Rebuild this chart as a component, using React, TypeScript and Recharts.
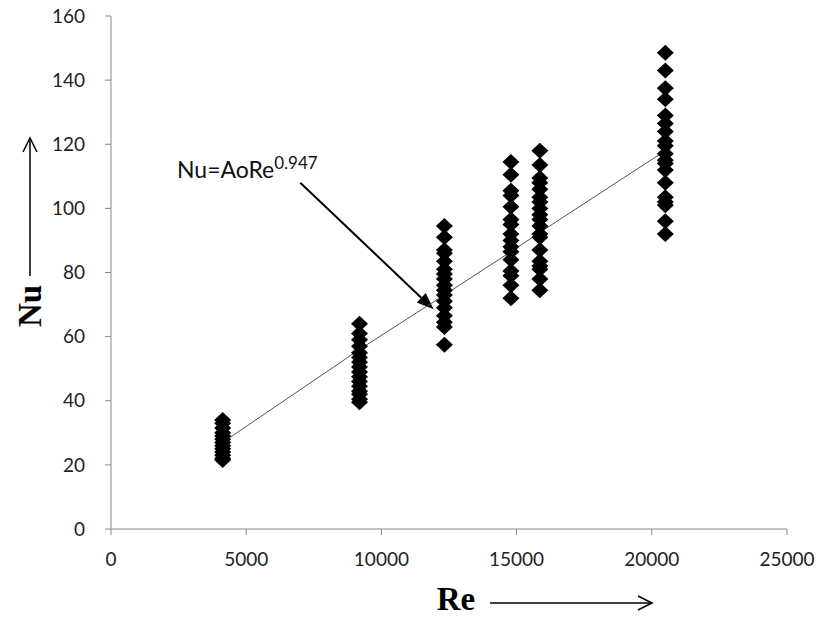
import React from 'react';
import { ScatterChart, Scatter, XAxis, YAxis, ReferenceDot, ReferenceLine } from 'recharts';

// Re value of each test group, and the Nu readings at that Re
const reGroups = [4130, 9190, 12330, 14790, 15860, 20500];
const nuGroup1 = [34, 33, 31.5, 30, 29, 28, 27, 26, 25, 24, 23, 22, 21.5];
const nuGroup2 = [64, 61, 59, 57, 55, 53.5, 52, 50.5, 49, 47.5, 46, 44.5, 43, 42, 40.5, 39.5];
const nuGroup3 = [94.5, 91, 87, 86, 83.5, 81, 79.5, 78, 76, 74.5, 73, 71, 69, 66.5, 64.5, 63, 57.5];
const nuGroup4 = [114.5, 110.5, 105.5, 104, 100.5, 96.5, 95, 92, 90, 88, 86.5, 84, 80.5, 79, 76, 72];
const nuGroup5 = [118, 113.5, 109.5, 108, 106, 103.5, 102, 100, 98, 96.5, 94.5, 92, 91, 87, 83.5, 82, 81, 78, 74.5];
const nuGroup6 = [148.5, 143, 137.5, 134, 129, 126.5, 124, 121, 119.5, 117, 115, 114, 112, 108, 103.5, 102, 101, 96, 92];

// fitted line Nu = Ao Re^0.947
const trendRe = [4130, 9190, 12330, 14790, 15860, 20500];
const trendNu = [27, 56, 73, 86.5, 92.5, 118];

const xTicks = [0, 5000, 10000, 15000, 20000, 25000];
const yTicks = [0, 20, 40, 60, 80, 100, 120, 140, 160];

const nuGroups = [nuGroup1, nuGroup2, nuGroup3, nuGroup4, nuGroup5, nuGroup6];
const points = nuGroups.flatMap((g, i) => g.map((nu) => ({ re: reGroups[i], nu })));
const trend = trendRe.map((re, i) => ({ re, nu: trendNu[i] }));

const sans = 'Lato, "Open Sans", sans-serif';
const serif = '"Liberation Serif", "Times New Roman", serif';
const tickFont = { fill: '#222', fontSize: 19, fontFamily: sans };

const Diamond = (props: any) => {
  const { cx, cy } = props;
  if (cx == null || cy == null) return null;
  return <path d={`M${cx},${cy - 8} L${cx + 8.5},${cy} L${cx},${cy + 8} L${cx - 8.5},${cy} Z`} fill="#000" />;
};

const NoDot = () => null;

const EquationLabel = (props: any) => {
  const { cx, cy } = props;
  return (
    <text x={cx} y={cy} fontFamily={sans} fontSize={23} fill="#111">
      Nu=AoRe
      <tspan dy={-9} fontSize={17}>0.947</tspan>
    </text>
  );
};

const PointerArrow = (props: any) => {
  const { x1, y1, x2, y2 } = props;
  if (x1 == null) return null;
  const ang = Math.atan2(y2 - y1, x2 - x1);
  const len = 17;
  const w = 6.5;
  const bx = x2 - len * Math.cos(ang);
  const by = y2 - len * Math.sin(ang);
  const px = -Math.sin(ang) * w;
  const py = Math.cos(ang) * w;
  return (
    <g>
      <line x1={x1} y1={y1} x2={bx} y2={by} stroke="#000" strokeWidth={2} />
      <path d={`M${x2},${y2} L${bx + px},${by + py} L${bx - px},${by - py} Z`} fill="#000" />
    </g>
  );
};

const YTitle = (props: any) => {
  const { viewBox } = props;
  const x = viewBox.x + 30;
  return (
    <g>
      <text
        x={x}
        y={306}
        transform={`rotate(-90, ${x}, 306)`}
        textAnchor="middle"
        dominantBaseline="central"
        fontFamily={serif}
        fontWeight="bold"
        fontSize={33}
        fill="#000"
      >
        Nu
      </text>
      <line x1={x} y1={276} x2={x} y2={138} stroke="#000" strokeWidth={1.5} />
      <polyline points={`${x - 7},${152} ${x},${138} ${x + 7},${152}`} fill="none" stroke="#000" strokeWidth={1.5} />
    </g>
  );
};

const XTitle = () => (
  <g>
    <text x={456} y={610} textAnchor="middle" fontFamily={serif} fontWeight="bold" fontSize={33} fill="#000">
      Re
    </text>
    <line x1={490} y1={603} x2={652} y2={603} stroke="#000" strokeWidth={1.5} />
    <polyline points={`638,596 652,603 638,610`} fill="none" stroke="#000" strokeWidth={1.5} />
  </g>
);

export default function App() {
  return (
    <div style={{ position: 'absolute', left: 0, top: 0, width: 830, height: 618, background: '#fff' }}>
      <ScatterChart width={830} height={618} margin={{ top: 16, right: 43, bottom: 59, left: 0 }}>
        <XAxis
          type="number"
          dataKey="re"
          domain={[0, 25000]}
          ticks={xTicks}
          tick={tickFont}
          tickSize={6}
          tickMargin={18}
          height={30}
          stroke="#888"
          label={{ content: <XTitle /> }}
        />
        <YAxis
          type="number"
          dataKey="nu"
          domain={[0, 160]}
          ticks={yTicks}
          tick={tickFont}
          tickSize={6}
          tickMargin={20}
          width={111}
          stroke="#888"
          label={{ content: (p: any) => <YTitle {...p} /> }}
        />
        <Scatter data={trend} line={{ stroke: '#555', strokeWidth: 1 }} shape={NoDot} isAnimationActive={false} />
        <Scatter data={points} shape={Diamond} isAnimationActive={false} />
        <ReferenceLine
          segment={[{ x: 7000, y: 108 }, { x: 11930, y: 68.5 }]}
          ifOverflow="visible"
          shape={(p: any) => <PointerArrow {...p} />}
        />
        <ReferenceDot x={2440} y={109.5} r={0} ifOverflow="visible" shape={(p: any) => <EquationLabel {...p} />} />
      </ScatterChart>
    </div>
  );
}
